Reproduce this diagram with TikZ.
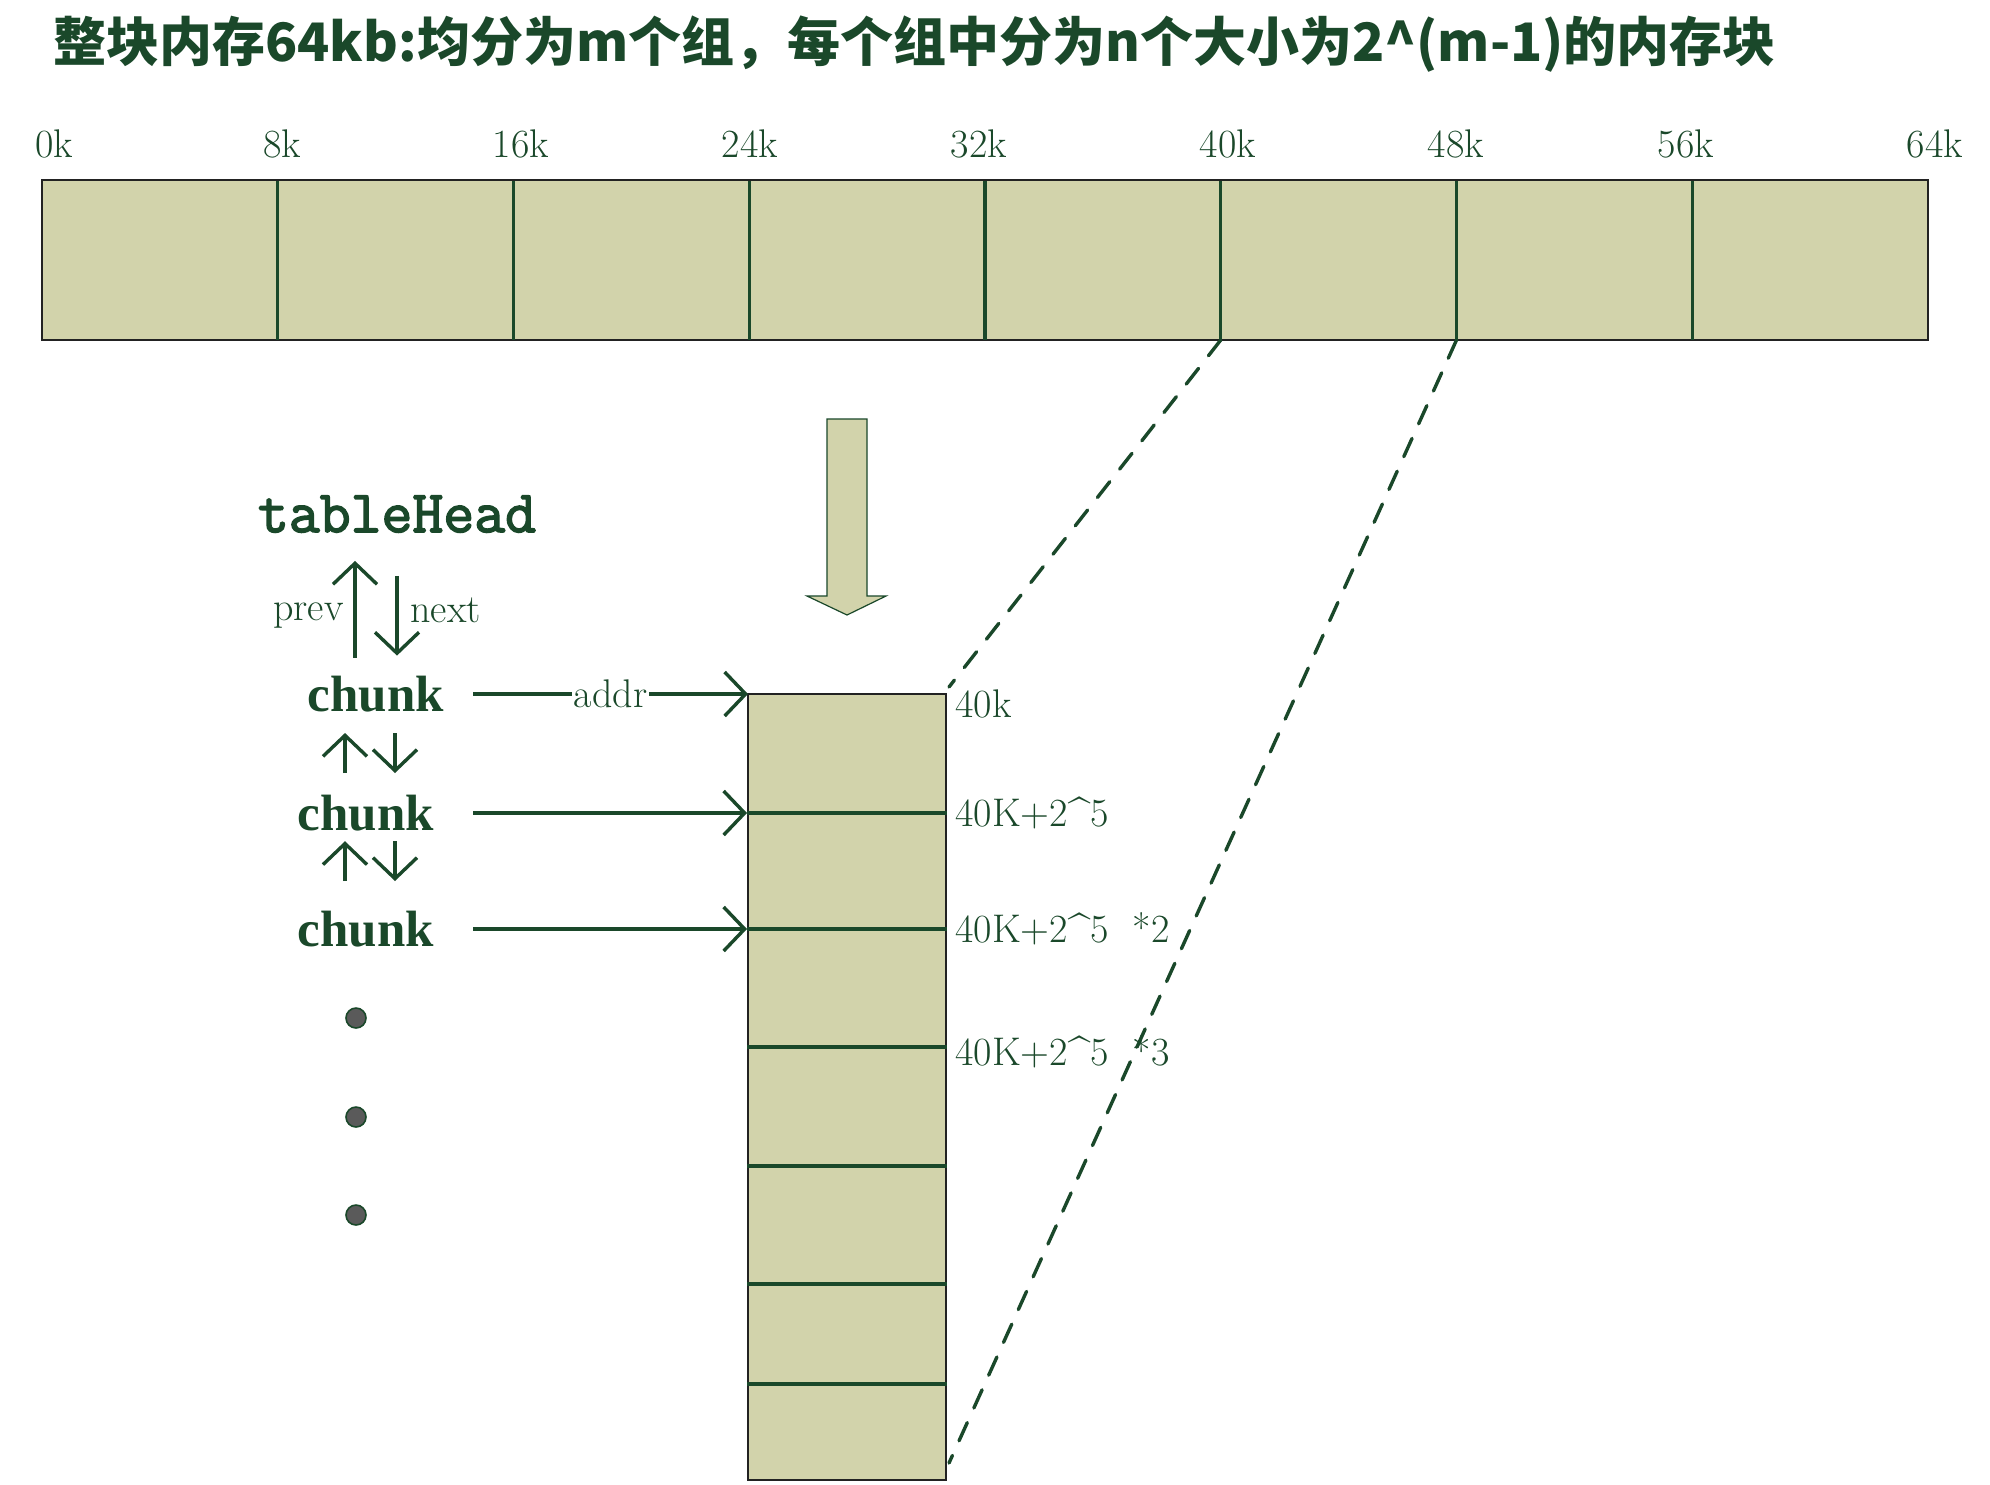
\documentclass[tikz,border=0pt]{standalone}
\usepackage{fontspec}
\usepackage{tikz}
\usetikzlibrary{arrows.meta}

\newfontfamily\cjk{Noto Sans CJK SC}
\newfontfamily\serifbold{Liberation Serif}
\newfontfamily\headfont{Latin Modern Mono}[FakeBold=2.5]

\definecolor{ink}{RGB}{26,72,42}
\definecolor{paper}{RGB}{210,211,171}
\definecolor{frame}{RGB}{34,34,34}
\definecolor{dotgray}{RGB}{90,90,90}

\tikzset{
  lbl/.style={text=ink, inner sep=0pt, font=\fontsize{20}{24}\selectfont},
  chunklbl/.style={text=ink, inner sep=0pt, font=\serifbold\bfseries\fontsize{25.5}{30}\selectfont},
  memblock/.style={fill=paper, draw=frame, line width=1pt},
  divline/.style={draw=ink, line width=1.7pt},
  link/.style={draw=ink, line width=1.7pt, -{Straight Barb[length=10.5pt, width=22pt]}},
  zoomline/.style={draw=ink, line width=1.7pt, line cap=round, dash pattern=on 10pt off 8pt},
  dotmark/.style={circle, fill=dotgray, draw=ink, line width=0.8pt, minimum size=10pt, inner sep=0pt},
}

\begin{document}
\begin{tikzpicture}[x=0.5pt, y=-0.5pt]
  \fill[white] (0,0) rectangle (1990,1484);
  \useasboundingbox (0,0) rectangle (1990,1484);

  % title
  \node[anchor=west, text=ink, inner sep=0pt, font=\cjk\bfseries\fontsize{26.5}{32}\selectfont] (title) at (53,44)
    {整块内存64kb:均分为m个组，每个组中分为n个大小为2\textasciicircum(m-1)的内存块};

  % the whole 64k
  \draw[memblock] (42,180) rectangle (1928,340);
  \foreach \i in {1,...,7}
    \draw[divline] (42+235.75*\i,181) -- (42+235.75*\i,340) coordinate (d\i);
  \foreach \x/\t in {54/0k, 282/8k, 521/16k, 750/24k, 979/32k, 1228/40k, 1456/48k, 1686/56k, 1935/64k}
    \node[lbl, anchor=base] (k\t) at (\x,157) {\t};

  % big arrow down
  \draw[fill=paper, draw=ink, line width=0.6pt] (827,419) -- (867,419) -- (867,596) -- (886,596)
    -- (847,615) -- (807,596) -- (827,596) -- cycle;

  % one group, cut in chunks
  \draw[memblock] (748,694) coordinate (g0) rectangle (946,1480);
  \foreach \y [count=\n] in {813,929,1047,1166,1284,1384}
    \draw[divline] (747,\y) coordinate (g\n) -- (947,\y);

  \node[lbl, anchor=base west] (a0) at (955,717) {40k};
  \node[lbl, anchor=base west] (a1) at (955,826) {40K+2\textasciicircum5};
  \node[lbl, anchor=base west] (a2) at (955,942) {40K+2\textasciicircum5\ \ *2};
  \node[lbl, anchor=base west] (a3) at (955,1065) {40K+2\textasciicircum5\ \ *3};

  \coordinate (gNE) at (949,687);
  \coordinate (gSE) at (949,1463);
  \draw[zoomline] (d5) -- (gNE);
  \draw[zoomline] (d6) -- (gSE);

  % list of chunks
  \node[text=ink, inner sep=0pt, font=\headfont\fontsize{30}{34}\selectfont] (th) at (397,514) {tableHead};
  \node[chunklbl] (c1) at (376,694) {chunk};
  \node[chunklbl] (c2) at (366,813) {chunk};
  \node[chunklbl] (c3) at (366,929) {chunk};

  \draw[link, shorten <=9pt, shorten >=14pt] (355,0 |- c1.north) -- (355,0 |- th.south);
  \draw[link, shorten <=21.5pt, shorten >=10pt] (397,0 |- th.south) -- (397,0 |- c1.north);
  \node[lbl, anchor=base east] (prv) at (344,620) {prev};
  \node[lbl, anchor=base west] (nxt) at (410,622) {next};

  \draw[link, shorten <=10.8pt, shorten >=10.3pt] (345,0 |- c2.north) -- (345,0 |- c1.south);
  \draw[link, shorten <=10.3pt, shorten >=10.8pt] (395,0 |- c1.south) -- (395,0 |- c2.north);
  \draw[link, shorten <=14.8pt, shorten >=4.9pt] (345,0 |- c3.north) -- (345,0 |- c2.south);
  \draw[link, shorten <=4.9pt, shorten >=14.8pt] (395,0 |- c2.south) -- (395,0 |- c3.north);

  \coordinate (tail) at (473,0);
  \draw[link] (tail |- c1) -- node[lbl, fill=white, inner sep=1pt] (addr) {addr} (g0);
  \draw[link] (tail |- c2) -- (g1);
  \draw[link] (tail |- c3) -- (g2);

  \foreach \y [count=\n] in {1018,1117,1215}
    \node[dotmark] (dot\n) at (356,\y) {};
\end{tikzpicture}
\end{document}
